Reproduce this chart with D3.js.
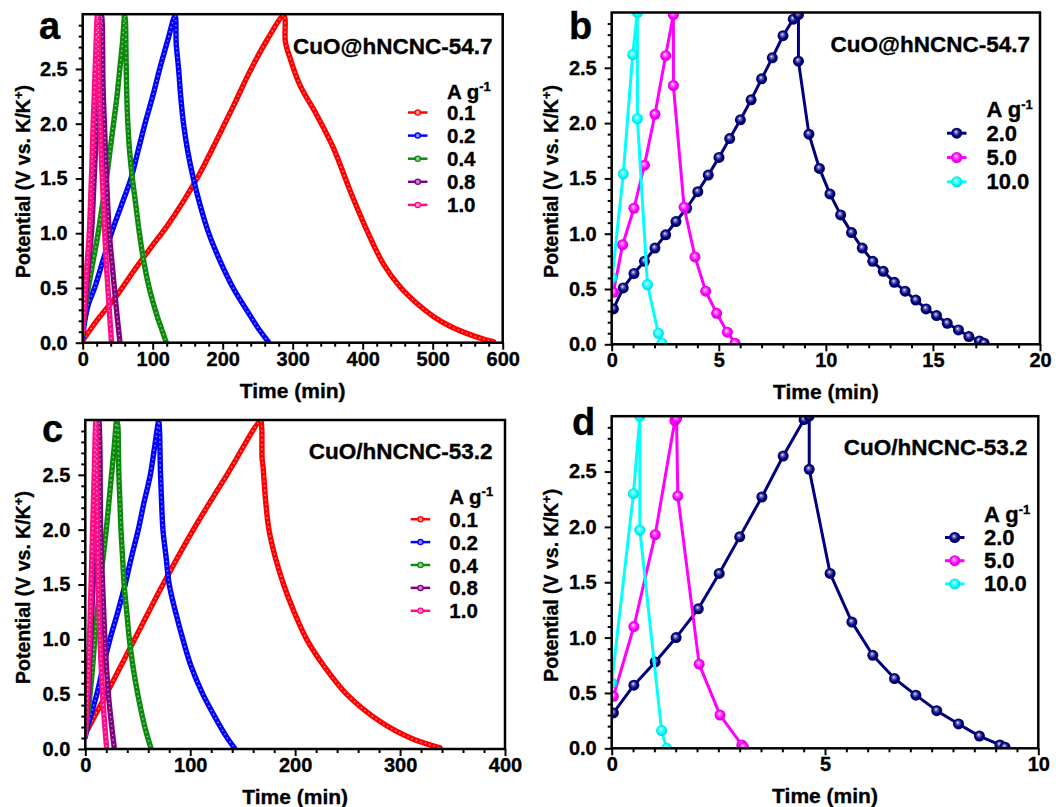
<!DOCTYPE html>
<html>
<head>
<meta charset="utf-8">
<script src="https://cdn.jsdelivr.net/npm/d3@7"></script>
<style>
  body { margin: 0; background: #fff; }
  svg { display: block; }
  text { font-family: "Liberation Sans", Arial, sans-serif; font-weight: bold; fill: #000; stroke: #000; stroke-width: 0.35px; }
</style>
</head>
<body>
<svg id="chart" width="1056" height="807"></svg>
<script>
// ---- data: [time (min), potential (V)] ----
const lowRates = ["0.1", "0.2", "0.4", "0.8", "1.0"];
const highRates = ["2.0", "5.0", "10.0"];

const yTicks = [0, 0.5, 1.0, 1.5, 2.0, 2.5];
const xTicksA = [0, 100, 200, 300, 400, 500, 600];
const xTicksB = [0, 5, 10, 15, 20];
const xTicksC = [0, 100, 200, 300, 400];
const xTicksD = [0, 5, 10];

// panel a: CuO@hNCNC-54.7, low current densities
const a01 = [[0,0.02],[12,0.13],[24.8,0.24],[48.6,0.43],[72.4,0.65],[96.2,0.86],[120,1.06],[143.8,1.29],[167.6,1.55],[191.4,1.85],[215.2,2.16],[239,2.48],[262.9,2.76],[287,2.99],
  [289,2.96],[289.5,2.75],[296.2,2.60],[310.5,2.35],[334.3,2.08],[358.1,1.78],[381.9,1.39],[405.7,1.03],[429.5,0.72],[453.3,0.51],[477.1,0.36],[501,0.24],[524.8,0.15],[548.6,0.085],[572.4,0.033],[586.7,0.01]];
const a02 = [[0,0.05],[3,0.2],[8,0.35],[17,0.5],[29,0.75],[41,1.0],[55,1.25],[69,1.5],[79,1.75],[89,2.0],[100,2.25],[110,2.5],[121,2.75],[132,2.99],
  [133,2.95],[133.5,2.74],[137,2.5],[140,2.25],[144,2.0],[150,1.75],[158,1.5],[168,1.25],[180,1.0],[196,0.75],[215,0.5],[239,0.25],[252,0.12],[265,0.01]];
const a04 = [[0,0.08],[3,0.3],[8,0.5],[15,0.75],[22,1.0],[28,1.25],[34,1.5],[39,1.75],[44,2.0],[49,2.25],[53,2.5],[57,2.75],[60,2.99],
  [61,2.95],[61.5,2.84],[62,2.57],[63,2.25],[64.5,2.0],[67,1.75],[71,1.5],[76,1.25],[81,1.0],[87,0.75],[95,0.5],[106,0.25],[113,0.12],[119,0.01]];
const a08 = [[0,0.12],[4,0.4],[8,0.7],[13,1.05],[16,1.45],[20,2.0],[23,2.45],[27,2.99],
  [28,2.9],[28.5,2.7],[29,2.35],[31,2.0],[34,1.5],[38,1.0],[42,0.72],[46,0.45],[49.5,0.22],[53,0.02]];
const a10 = [[0,0.1],[3,0.4],[6,0.7],[9,0.95],[11,1.25],[13,1.6],[15,2.0],[17,2.35],[19,2.7],[21,2.99],
  [22,2.9],[22.5,2.6],[23.5,2.3],[25,2.0],[27,1.65],[29.5,1.3],[31.5,1.0],[34,0.7],[36,0.5],[38.5,0.25],[41,0.02]];

// panel b: CuO@hNCNC-54.7, high current densities
const b20 = [[0.08,0.32],[0.54,0.51],[1.04,0.64],[1.53,0.75],[2.02,0.87],[2.52,0.99],[3.0,1.11],[3.5,1.23],[4.02,1.38],[4.51,1.53],[5.01,1.69],[5.51,1.86],[6.01,2.03],[6.51,2.21],[7.0,2.40],[7.5,2.59],[8.0,2.79],[8.48,2.94],[8.72,2.98],
  [8.72,2.56],[9.21,1.90],[9.7,1.59],[10.19,1.36],[10.69,1.17],[11.2,1.01],[11.7,0.87],[12.19,0.75],[12.68,0.66],[13.2,0.56],[13.7,0.48],[14.2,0.40],[14.68,0.32],[15.17,0.26],[15.67,0.19],[16.19,0.13],[16.68,0.07],[17.17,0.03],[17.39,0.01]];
const b50 = [[0.08,0.47],[0.51,0.90],[1.04,1.23],[1.53,1.62],[2.02,2.08],[2.52,2.61],[2.88,2.98],
  [2.88,2.34],[3.38,1.24],[3.89,0.79],[4.39,0.48],[4.9,0.28],[5.4,0.11],[5.76,0.01]];
const b100 = [[0.02,0.6],[0.54,1.54],[0.98,2.62],[1.2,3.0],[1.2,2.04],[1.67,0.54],[2.18,0.10],[2.35,0.01]];

// panel c: CuO/hNCNC-53.2, low current densities
const c01 = [[0,0.14],[10,0.32],[20,0.5],[47,1.0],[74,1.5],[103,2.0],[135,2.5],[167,2.99],
  [168,2.95],[168.5,2.65],[169.5,2.57],[170,2.5],[172,2.25],[175,2.0],[181,1.75],[189,1.5],[199,1.25],[211,1.0],[228,0.75],[249,0.5],[281,0.25],[310,0.1],[338,0.01]];
const c02 = [[0,0.11],[2,0.2],[5,0.3],[11,0.5],[17,0.75],[23.5,1.0],[31,1.25],[38,1.5],[44,1.75],[50.5,2.0],[56,2.25],[62,2.5],[66,2.75],[70,2.99],
  [70.5,2.95],[71,2.83],[71.5,2.57],[72.5,2.3],[74,2.0],[77,1.75],[80,1.5],[86,1.25],[93,1.0],[101,0.75],[112,0.5],[126,0.25],[134,0.12],[142,0.01]];
const c04 = [[0,0.15],[2,0.3],[4.5,0.5],[7,0.75],[9,1.0],[11.5,1.25],[14,1.5],[17,1.75],[20,2.0],[22.5,2.25],[25,2.5],[27.5,2.75],[30,2.99],
  [31,2.95],[31.5,2.79],[32,2.5],[33,2.25],[34,2.0],[35.5,1.75],[37,1.5],[39.5,1.25],[42,1.0],[45.5,0.75],[50,0.5],[55.5,0.25],[59,0.12],[62.5,0.01]];
const c08 = [[0,0.15],[1.5,0.35],[3,0.5],[5,1.0],[7.5,1.5],[9,2.0],[11,2.5],[13,2.99],
  [13.5,2.9],[14,2.7],[14.6,2.0],[16.5,1.5],[18.7,1.0],[22,0.5],[25,0.22],[27.6,0.01]];
const c10 = [[0,0.12],[1,0.3],[2,0.5],[4,1.0],[5.5,1.5],[7,2.0],[8.5,2.5],[10,2.99],
  [10.5,2.8],[11,2.4],[11.5,2.0],[12.4,1.5],[14,1.0],[16.5,0.5],[18.5,0.22],[20.3,0.01]];

// panel d: CuO/hNCNC-53.2, high current densities
const d20 = [[0.04,0.32],[0.52,0.57],[1.02,0.78],[1.51,1.0],[2.03,1.26],[2.52,1.58],[3.0,1.91],[3.52,2.27],[4.02,2.64],[4.51,2.97],[4.63,3.0],
  [4.63,2.52],[5.12,1.58],[5.63,1.14],[6.12,0.84],[6.63,0.63],[7.13,0.48],[7.62,0.34],[8.13,0.22],[8.62,0.11],[9.1,0.03],[9.22,0.01]];
const d50 = [[0.04,0.47],[0.52,1.10],[1.02,1.93],[1.48,2.96],[1.52,2.98],[1.55,2.28],[2.05,0.76],[2.54,0.30],[3.05,0.03],[3.09,0.01]];
const d100 = [[0.0,0.59],[0.51,2.30],[0.66,3.0],[0.66,1.97],[1.17,0.16],[1.29,0.0]];

const lowColors = ["#ff0000", "#0000ff", "#0c8a0c", "#800080", "#ff0a87"];
const highColors = ["#000080", "#ff00ff", "#00ffff"];

// ---- layout (pixels) ----
const panels = [
  { letter: "a", name: "CuO@hNCNC-54.7", kind: "low", series: [a01, a02, a04, a08, a10], xMax: 600, xTicks: xTicksA, xMinor: 20,
    left: 82.7, right: 502.7, top: 14.2, bottom: 342.7, letterX: 39, letterY: 39,
    nameX: 492.5, nameY: 53.5, legX: 408, legTextX: 447, legTitleY: 99, legY0: 120, legStep: 23.1, yTitleX: 30 },
  { letter: "b", name: "CuO@hNCNC-54.7", kind: "high", series: [b20, b50, b100], xMax: 20, xTicks: xTicksB, xMinor: 1,
    left: 611.7, right: 1040, top: 12.5, bottom: 344.3, letterX: 569, letterY: 39,
    nameX: 1030, nameY: 52, legX: 947, legTextX: 986.5, legTitleY: 116.5, legY0: 140.7, legStep: 24.3, yTitleX: 558 },
  { letter: "c", name: "CuO/hNCNC-53.2", kind: "low", series: [c01, c02, c04, c08, c10], xMax: 400, xTicks: xTicksC, xMinor: 20,
    left: 85.3, right: 505, top: 420, bottom: 749, letterX: 42, letterY: 441.5,
    nameX: 492.5, nameY: 459.3, legX: 410.7, legTextX: 449.3, legTitleY: 504, legY0: 526.7, legStep: 22.9, yTitleX: 30 },
  { letter: "d", name: "CuO/hNCNC-53.2", kind: "high", series: [d20, d50, d100], xMax: 10, xTicks: xTicksD, xMinor: 0.5,
    left: 611.7, right: 1038.3, top: 416.2, bottom: 748.3, letterX: 572, letterY: 435,
    nameX: 1027.5, nameY: 455, legX: 945, legTextX: 984, legTitleY: 521.5, legY0: 545, legStep: 23.2, yTitleX: 558 }
];

const svg = d3.select("#chart");
const defs = svg.append("defs");

// shiny ball markers for the high-rate panels
highColors.forEach((col, i) => {
  const g = defs.append("radialGradient").attr("id", "ball" + i)
    .attr("cx", "50%").attr("cy", "50%").attr("r", "55%").attr("fx", "42%").attr("fy", "36%");
  g.append("stop").attr("offset", "0%").attr("stop-color", "#ffffff");
  g.append("stop").attr("offset", "22%").attr("stop-color", d3.interpolateRgb(col, "#ffffff")(0.45));
  g.append("stop").attr("offset", "60%").attr("stop-color", col);
  g.append("stop").attr("offset", "100%").attr("stop-color", d3.color(col).darker(0.7));
});

function drawPanel(p) {
  const x = d3.scaleLinear().domain([0, p.xMax]).range([p.left, p.right]);
  const y = d3.scaleLinear().domain([0, 3]).range([p.bottom, p.top]);
  const g = svg.append("g");

  const clipId = "clip-" + p.letter;
  defs.append("clipPath").attr("id", clipId).append("rect")
    .attr("x", p.left).attr("y", p.top).attr("width", p.right - p.left).attr("height", p.bottom - p.top);

  const plot = g.append("g").attr("clip-path", `url(#${clipId})`);

  if (p.kind === "low") {
    const line = d3.line().x(d => x(d[0])).y(d => y(d[1])).curve(d3.curveCatmullRom.alpha(0.5));
    p.series.forEach((s, i) => {
      const col = lowColors[i];
      plot.append("path").attr("d", line(s)).attr("fill", "none")
        .attr("stroke", col).attr("stroke-width", 5.4).attr("stroke-linejoin", "round").attr("stroke-linecap", "round");
      plot.append("path").attr("d", line(s)).attr("fill", "none")
        .attr("stroke", d3.interpolateRgb(col, "#ffffff")(0.55)).attr("stroke-width", 1.5)
        .attr("stroke-dasharray", "1.4 3.2");
    });
  } else {
    const line = d3.line().x(d => x(d[0])).y(d => y(d[1]));
    p.series.forEach((s, i) => {
      plot.append("path").attr("d", line(s)).attr("fill", "none")
        .attr("stroke", highColors[i]).attr("stroke-width", 3).attr("stroke-linejoin", "round");
      plot.selectAll(null).data(s).enter().append("circle")
        .attr("cx", d => x(d[0])).attr("cy", d => y(d[1])).attr("r", 5.5)
        .attr("fill", `url(#ball${i})`);
    });
  }

  // frame
  g.append("rect").attr("x", p.left).attr("y", p.top)
    .attr("width", p.right - p.left).attr("height", p.bottom - p.top)
    .attr("fill", "none").attr("stroke", "#000").attr("stroke-width", 2.5);

  // axes: major + minor ticks, outward
  const yMinor = d3.range(0.1, 3.0, 0.1).filter(v => Math.abs(v * 2 - Math.round(v * 2)) > 1e-6);
  const xMinor = d3.range(p.xMinor, p.xMax, p.xMinor).filter(v => !p.xTicks.some(t => Math.abs(t - v) < 1e-6));

  const yAxis = g.append("g").attr("transform", `translate(${p.left},0)`)
    .call(d3.axisLeft(y).tickValues(yTicks).tickSize(7).tickPadding(8).tickFormat(d3.format(".1f")));
  const yAxisMinor = g.append("g").attr("transform", `translate(${p.left},0)`)
    .call(d3.axisLeft(y).tickValues(yMinor).tickSize(4).tickFormat(""));
  const xAxis = g.append("g").attr("transform", `translate(0,${p.bottom})`)
    .call(d3.axisBottom(x).tickValues(p.xTicks).tickSize(7).tickPadding(2).tickFormat(d3.format("d")));
  const xAxisMinor = g.append("g").attr("transform", `translate(0,${p.bottom})`)
    .call(d3.axisBottom(x).tickValues(xMinor).tickSize(4).tickFormat(""));

  [yAxis, yAxisMinor, xAxis, xAxisMinor].forEach(a => {
    a.select(".domain").remove();
    a.selectAll(".tick line").attr("stroke-width", 2);
    a.selectAll("text").style("font-size", "20px").attr("font-family", null).attr("fill", "#000");
  });

  // axis titles
  g.append("text").attr("x", (p.left + p.right) / 2).attr("y", p.bottom + 55)
    .attr("text-anchor", "middle").style("font-size", "21px").text("Time (min)");

  const yt = g.append("text")
    .attr("transform", `translate(${p.yTitleX},${(p.top + p.bottom) / 2 + 3}) rotate(-90)`)
    .attr("text-anchor", "middle").style("font-size", "19.5px");
  yt.append("tspan").text("Potential (V vs. K/K");
  yt.append("tspan").text("+").attr("dy", -7).style("font-size", "13px");
  yt.append("tspan").text(")").attr("dy", 7);

  // panel letter + sample name
  g.append("text").attr("x", p.letterX).attr("y", p.letterY).style("font-size", "38px").text(p.letter);
  g.append("text").attr("x", p.nameX).attr("y", p.nameY).attr("text-anchor", "end")
    .style("font-size", "22.5px").text(p.name);

  // legend
  const fs = p.kind === "low" ? 20.5 : 22;
  const lt = g.append("text").attr("x", p.legTextX).attr("y", p.legTitleY).style("font-size", fs + "px");
  lt.append("tspan").text("A g");
  lt.append("tspan").text("-1").attr("dy", -8).style("font-size", "13px");

  const labels = p.kind === "low" ? lowRates : highRates;
  const colors = p.kind === "low" ? lowColors : highColors;
  labels.forEach((lab, i) => {
    const by = p.legY0 + i * p.legStep;
    const cy = by - 7.5;
    const len = 19.5;
    g.append("line").attr("x1", p.legX).attr("x2", p.legX + len).attr("y1", cy).attr("y2", cy)
      .attr("stroke", colors[i]).attr("stroke-width", p.kind === "low" ? 2.5 : 3);
    if (p.kind === "low") {
      g.append("circle").attr("cx", p.legX + len / 2).attr("cy", cy).attr("r", 2.6)
        .attr("fill", d3.interpolateRgb(colors[i], "#ffffff")(0.55)).attr("stroke", colors[i]).attr("stroke-width", 1.3);
    } else {
      g.append("circle").attr("cx", p.legX + len / 2).attr("cy", cy).attr("r", 5.5)
        .attr("fill", `url(#ball${i})`);
    }
    g.append("text").attr("x", p.legTextX).attr("y", by).style("font-size", fs + "px").text(lab);
  });
}

panels.forEach(drawPanel);
</script>
</body>
</html>
